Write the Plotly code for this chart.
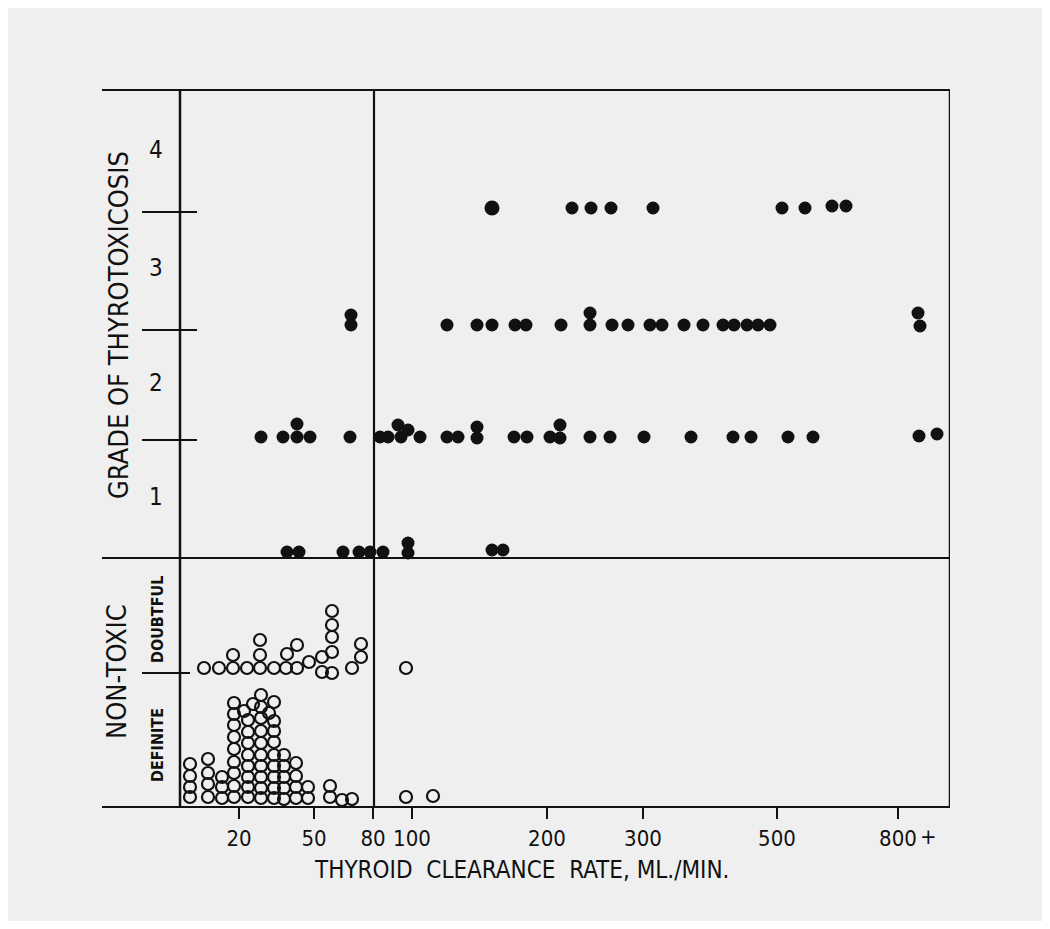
import plotly.graph_objects as go

# ---- axis definitions (positions along the printed scale) ----
x_tick_pos = [239, 314, 373, 412, 547, 643, 777, 898]
x_tick_text = ["20", "50", "80", "100", "200", "300", "500", "800"]
y_tick_pos = [212, 330, 440]          # grade boundaries
y_label_pos = [497, 383, 268, 150]    # grade label centres
y_label_text = ["1", "2", "3", "4"]
nontoxic_split = 673                  # doubtful / definite boundary
toxic_split = 558                     # toxic / non-toxic boundary
divider_x = 374                       # 80 ml/min divider
axis_x = 180

# ---- toxic patients (filled dots), by grade row ----
row4_x = [492, 572, 591, 611, 653, 782, 805, 832, 846]
row4_y = [208, 208, 208, 208, 208, 208, 208, 206, 206]

row3_x = [351, 351, 447, 477, 492, 515, 526, 561, 590, 590, 612, 628, 650, 662,
          684, 703, 723, 734, 747, 758, 770, 918, 920]
row3_y = [315, 325, 325, 325, 325, 325, 325, 325, 313, 325, 325, 325, 325, 325,
          325, 325, 325, 325, 325, 325, 325, 313, 326]

row2_x = [261, 283, 297, 297, 310, 350, 380, 388, 398, 401, 408, 420, 447, 458,
          477, 477, 514, 527, 550, 560, 560, 590, 610, 644, 691, 733, 751, 788,
          813, 919, 937]
row2_y = [437, 437, 424, 437, 437, 437, 437, 437, 425, 437, 430, 437, 437, 437,
          427, 438, 437, 437, 437, 425, 438, 437, 437, 437, 437, 437, 437, 437,
          437, 436, 434]

row1_x = [287, 299, 343, 359, 370, 383, 408, 408, 492, 503]
row1_y = [552, 552, 552, 552, 552, 552, 543, 553, 550, 550]

# ---- non-toxic patients (open circles) ----
doubtful_x = [204, 219, 233, 233, 247, 260, 260, 260, 274, 286, 287, 297, 297,
              309, 322, 322, 332, 332, 332, 332, 332, 352, 361, 361, 406]
doubtful_y = [668, 668, 668, 655, 668, 668, 655, 640, 668, 668, 654, 668, 645,
              662, 672, 657, 673, 652, 637, 625, 611, 668, 657, 644, 668]

definite_x = ([190] * 4 + [208] * 4 + [222] * 3 + [234] * 9 + [244] +
              [248] * 8 + [253] + [261] * 10 + [269] + [274] * 9 + [284] * 5 +
              [296] * 4 + [308] * 2 + [330] * 2 + [342, 352, 406, 433])
definite_y = ([764, 776, 787, 797] +
              [759, 773, 784, 797] +
              [777, 787, 798] +
              [703, 714, 725, 737, 749, 762, 773, 786, 797] +
              [711] +
              [720, 732, 743, 755, 766, 777, 787, 797] +
              [704] +
              [695, 707, 718, 731, 743, 755, 766, 777, 788, 798] +
              [713] +
              [702, 721, 731, 742, 755, 766, 777, 788, 798] +
              [755, 766, 777, 788, 799] +
              [763, 776, 787, 798] +
              [787, 798] +
              [786, 797] +
              [800, 799, 797, 796])

INK = "#111111"
BG = "#efefef"
FONT = "Liberation Sans Narrow, DejaVu Sans Condensed, Arial Narrow, sans-serif"

# page has an 8px body margin, so the figure is drawn 8px in from the window edge
OFF = 8
W, H = 1050 - 2 * OFF, 929 - 2 * OFF

fig = go.Figure()

filled_x = row4_x + row3_x + row2_x + row1_x
filled_y = row4_y + row3_y + row2_y + row1_y
sizes = [15] + [13] * (len(filled_x) - 1)
fig.add_trace(go.Scatter(x=filled_x, y=filled_y, mode="markers",
                         marker=dict(color=INK, size=sizes, opacity=1,
                                     line=dict(width=0)),
                         showlegend=False, hoverinfo="skip"))

fig.add_trace(go.Scatter(x=doubtful_x + definite_x, y=doubtful_y + definite_y,
                         mode="markers",
                         marker=dict(symbol="circle-open", color=INK, size=12,
                                     opacity=1, line=dict(width=2.2, color=INK)),
                         showlegend=False, hoverinfo="skip"))

shapes = []
def vline(x, y0, y1, w=2.2):
    shapes.append(dict(type="line", xref="x", yref="y", x0=x, x1=x, y0=y0, y1=y1,
                       line=dict(color=INK, width=w)))
def hline(y, x0, x1, w=2.2):
    shapes.append(dict(type="line", xref="x", yref="y", x0=x0, x1=x1, y0=y, y1=y,
                       line=dict(color=INK, width=w)))

vline(axis_x, 91, 806, 2.5)
vline(divider_x, 91, 806, 2.2)
vline(950, 91, 806, 2.5)
hline(toxic_split, 102, 950, 2.2)
for yt in y_tick_pos:
    hline(yt, 142, 197, 2.2)
hline(nontoxic_split, 142, 190, 2.2)

ann = []
for t, yp in zip(y_label_text, y_label_pos):
    ann.append(dict(x=156, y=yp, xref="x", yref="y", text=t, showarrow=False,
                    font=dict(family=FONT, size=24, color=INK)))
ann.append(dict(x=118, y=325, xref="x", yref="y", text="GRADE OF THYROTOXICOSIS",
                textangle=-90, showarrow=False,
                font=dict(family=FONT, size=27, color=INK)))
ann.append(dict(x=116, y=672, xref="x", yref="y", text="NON-TOXIC",
                textangle=-90, showarrow=False,
                font=dict(family=FONT, size=27, color=INK)))
ann.append(dict(x=157, y=620, xref="x", yref="y", text="<b>DOUBTFUL</b>",
                textangle=-90, showarrow=False,
                font=dict(family=FONT, size=16, color=INK)))
ann.append(dict(x=157, y=745, xref="x", yref="y", text="<b>DEFINITE</b>",
                textangle=-90, showarrow=False,
                font=dict(family=FONT, size=16, color=INK)))
ann.append(dict(x=928, y=-0.043, xref="x", yref="paper", text="+",
                showarrow=False, yanchor="middle",
                font=dict(family=FONT, size=22, color=INK)))
ann.append(dict(x=521, y=-0.090, xref="x", yref="paper",
                text="THYROID  CLEARANCE  RATE, ML./MIN.",
                showarrow=False, yanchor="middle",
                font=dict(family=FONT, size=24, color=INK)))

fig.update_layout(
    width=W, height=H,
    margin=dict(l=102 - OFF, r=W - (950 - OFF), t=91 - OFF, b=H - (806 - OFF)),
    paper_bgcolor=BG, plot_bgcolor=BG,
    shapes=shapes, annotations=ann,
    xaxis=dict(range=[102, 950], tickvals=x_tick_pos, ticktext=x_tick_text,
               tickangle=0,
               ticks="outside", ticklen=11, tickwidth=2, tickcolor=INK,
               showline=True, linecolor=INK, linewidth=2.2, mirror=True,
               showgrid=False, zeroline=False,
               tickfont=dict(family=FONT, size=22, color=INK)),
    yaxis=dict(range=[806, 91], showline=False, showgrid=False, zeroline=False,
               showticklabels=False, ticks=""),
)

fig.write_html("out.html")
